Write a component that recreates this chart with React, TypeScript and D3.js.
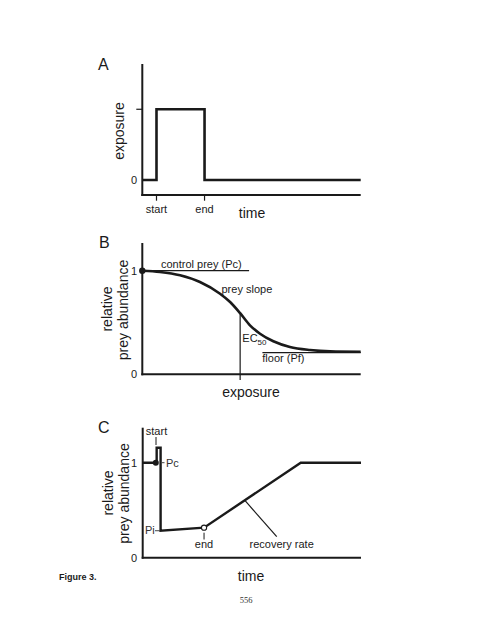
import React from "react";
import * as d3 from "d3";

// ---------- Panel A data ----------
const timeA = [0, 6.5, 6.5, 28.5, 28.5, 100];
const exposureA = [0, 0, 1, 1, 0, 0];
const ticksA = [
  { t: 6.5, label: "start" },
  { t: 28.5, label: "end" },
];

// ---------- Panel B data ----------
const exposureB = [0, 8.1, 17.3, 26.4, 35.6, 40.2, 44.8, 49.3, 53.9, 60, 67.6, 76.8, 86, 100];
const preyB = [1.0, 0.988, 0.956, 0.891, 0.778, 0.698, 0.59, 0.473, 0.392, 0.319, 0.264, 0.235, 0.222, 0.218];
const controlB = { x0: 0, x1: 48.9, y: 1 };
const floorB = { x0: 55, x1: 100, y: 0.21 };
const ec50B = { x: 44.8, y: 0.59 };

// ---------- Panel C data ----------
const timeC = [0, 6.4, 6.4, 8.2, 8.2, 28.1, 72.4, 100];
const preyC = [1, 1, 1.158, 1.158, 0.284, 0.316, 1, 1];
const pcC = { x: 6.0, y: 1 };
const endC = { x: 28.1, y: 0.316 };
const leaderC = [
  { x: 46.9, y: 0.6 },
  { x: 61.4, y: 0.221 },
];

const FONT = "'Liberation Sans', Arial, Helvetica, sans-serif";
const INK = "#1a1a1a";

export default function App() {
  // Panel A scales
  const xA = d3.scaleLinear().domain([0, 100]).range([142.3, 360.7]);
  const yA = d3.scaleLinear().domain([-0.212, 1.64]).range([195, 64]);
  // Panel B scales
  const xB = d3.scaleLinear().domain([0, 100]).range([142.3, 360.7]);
  const yB = d3.scaleLinear().domain([0, 1]).range([374.3, 270.7]);
  // Panel C scales
  const xC = d3.scaleLinear().domain([0, 100]).range([142.7, 361]);
  const yC = d3.scaleLinear().domain([0, 1]).range([557.7, 462.7]);

  const lineA = d3
    .line<number>()
    .x((_, i) => xA(timeA[i]))
    .y((d) => yA(d));
  const lineB = d3
    .line<number>()
    .x((_, i) => xB(exposureB[i]))
    .y((d) => yB(d))
    .curve(d3.curveMonotoneX);
  const lineC = d3
    .line<number>()
    .x((_, i) => xC(timeC[i]))
    .y((d) => yC(d));

  const txt = { fontFamily: FONT, fill: INK } as const;

  return (
    <svg
      width={495}
      height={640}
      viewBox="0 0 495 640"
      style={{ position: "absolute", left: 0, top: 0, background: "#fff" }}
    >
      <rect x={0} y={0} width={495} height={640} fill="#fff" />

      {/* ================= Panel A ================= */}
      <text x={98} y={70} fontSize={16} {...txt}>A</text>
      <line x1={xA(0)} x2={xA(0)} y1={64} y2={196} stroke={INK} strokeWidth={2} />
      <line x1={xA(0) - 1} x2={xA(100)} y1={yA.range()[0]} y2={yA.range()[0]} stroke={INK} strokeWidth={2} />
      <line x1={xA(0) - 6} x2={xA(0)} y1={yA(1)} y2={yA(1)} stroke={INK} strokeWidth={1.2} />
      <text x={137} y={yA(0)} dy="0.35em" textAnchor="end" fontSize={11} {...txt}>0</text>
      <path d={lineA(exposureA) || ""} fill="none" stroke={INK} strokeWidth={2.6} strokeLinejoin="miter" />
      {ticksA.map((tk) => (
        <g key={tk.label}>
          <line x1={xA(tk.t)} x2={xA(tk.t)} y1={195} y2={200.7} stroke={INK} strokeWidth={1.2} />
          <text x={xA(tk.t)} y={213} textAnchor="middle" fontSize={11} {...txt}>{tk.label}</text>
        </g>
      ))}
      <text x={252} y={218.3} textAnchor="middle" fontSize={14} {...txt}>time</text>
      <text transform="translate(124,131) rotate(-90)" textAnchor="middle" fontSize={14} {...txt}>exposure</text>

      {/* ================= Panel B ================= */}
      <text x={99} y={248} fontSize={16} {...txt}>B</text>
      <line x1={xB(0)} x2={xB(0)} y1={243} y2={375.3} stroke={INK} strokeWidth={2} />
      <line x1={xB(0) - 1} x2={xB(100)} y1={yB(0)} y2={yB(0)} stroke={INK} strokeWidth={2} />
      <text x={137} y={yB(1)} dy="0.35em" textAnchor="end" fontSize={11} {...txt}>1</text>
      <text x={137} y={yB(0)} dy="0.35em" textAnchor="end" fontSize={11} {...txt}>0</text>
      {/* control line */}
      <line x1={xB(controlB.x0)} x2={xB(controlB.x1)} y1={yB(controlB.y)} y2={yB(controlB.y)} stroke={INK} strokeWidth={1.2} />
      {/* floor line */}
      <line x1={xB(floorB.x0)} x2={xB(floorB.x1)} y1={yB(floorB.y)} y2={yB(floorB.y)} stroke={INK} strokeWidth={1.2} />
      {/* EC50 line */}
      <line x1={xB(ec50B.x)} x2={xB(ec50B.x)} y1={yB(ec50B.y)} y2={380} stroke={INK} strokeWidth={1.2} />
      <path d={lineB(preyB) || ""} fill="none" stroke={INK} strokeWidth={2.6} />
      <circle cx={xB(0)} cy={yB(1)} r={3.2} fill={INK} />
      <text x={161} y={268.3} fontSize={11} {...txt}>control prey (Pc)</text>
      <text x={221.5} y={292.7} fontSize={11} {...txt}>prey slope</text>
      <text x={242.3} y={341.7} fontSize={11} {...txt}>
        EC<tspan fontSize={8} dy={3}>50</tspan>
      </text>
      <text x={262.3} y={361.7} fontSize={11} {...txt}>floor (Pf)</text>
      <text x={251} y={396.7} textAnchor="middle" fontSize={14} {...txt}>exposure</text>
      <text transform="translate(111.7,309) rotate(-90)" textAnchor="middle" fontSize={14} {...txt}>relative</text>
      <text transform="translate(128.3,310) rotate(-90)" textAnchor="middle" fontSize={14} {...txt}>prey abundance</text>

      {/* ================= Panel C ================= */}
      <text x={98} y={433.3} fontSize={16} {...txt}>C</text>
      <line x1={xC(0)} x2={xC(0)} y1={427.7} y2={558.7} stroke={INK} strokeWidth={2} />
      <line x1={xC(0) - 1} x2={xC(100)} y1={yC(0)} y2={yC(0)} stroke={INK} strokeWidth={2} />
      <text x={137} y={yC(1)} dy="0.35em" textAnchor="end" fontSize={11} {...txt}>1</text>
      <text x={137} y={yC(0)} dy="0.35em" textAnchor="end" fontSize={11} {...txt}>0</text>
      {/* leader line for recovery rate */}
      <line x1={xC(leaderC[0].x)} y1={yC(leaderC[0].y)} x2={xC(leaderC[1].x)} y2={yC(leaderC[1].y)} stroke={INK} strokeWidth={1.2} />
      <path d={lineC(preyC) || ""} fill="none" stroke={INK} strokeWidth={2.4} strokeLinejoin="miter" />
      <circle cx={xC(pcC.x)} cy={yC(pcC.y)} r={3} fill={INK} />
      <circle cx={xC(endC.x)} cy={yC(endC.y)} r={2.6} fill="#fff" stroke={INK} strokeWidth={1.1} />
      {/* start label + tick */}
      <text x={156.5} y={435} textAnchor="middle" fontSize={11} {...txt}>start</text>
      <line x1={156} x2={156} y1={437} y2={445} stroke={INK} strokeWidth={1} />
      {/* Pc */}
      <line x1={161.7} x2={164.5} y1={yC(1)} y2={yC(1)} stroke="#444" strokeWidth={1} />
      <text x={166} y={467.3} fontSize={11} fill="#333" fontFamily={FONT}>Pc</text>
      {/* Pi */}
      <text x={145} y={534.3} fontSize={11} fill="#333" fontFamily={FONT}>Pi</text>
      <line x1={155} x2={160} y1={yC(0.284)} y2={yC(0.284)} stroke="#444" strokeWidth={1} />
      {/* end tick + label */}
      <line x1={xC(endC.x)} x2={xC(endC.x)} y1={532.7} y2={539.5} stroke={INK} strokeWidth={1} />
      <text x={xC(endC.x)} y={548.3} textAnchor="middle" fontSize={11} {...txt}>end</text>
      <text x={281.7} y={548.3} textAnchor="middle" fontSize={11} {...txt}>recovery rate</text>
      <text x={251} y={580.7} textAnchor="middle" fontSize={14} {...txt}>time</text>
      <text transform="translate(112.7,493) rotate(-90)" textAnchor="middle" fontSize={14} {...txt}>relative</text>
      <text transform="translate(128.7,493.5) rotate(-90)" textAnchor="middle" fontSize={14} {...txt}>prey abundance</text>

      {/* Footer */}
      <text x={59} y={580.3} fontSize={9} fontWeight="bold" {...txt}>Figure 3.</text>
      <text x={246} y={603} textAnchor="middle" fontSize={8.5} fontFamily="'Liberation Serif', 'Times New Roman', serif" fill="#333">556</text>
    </svg>
  );
}
